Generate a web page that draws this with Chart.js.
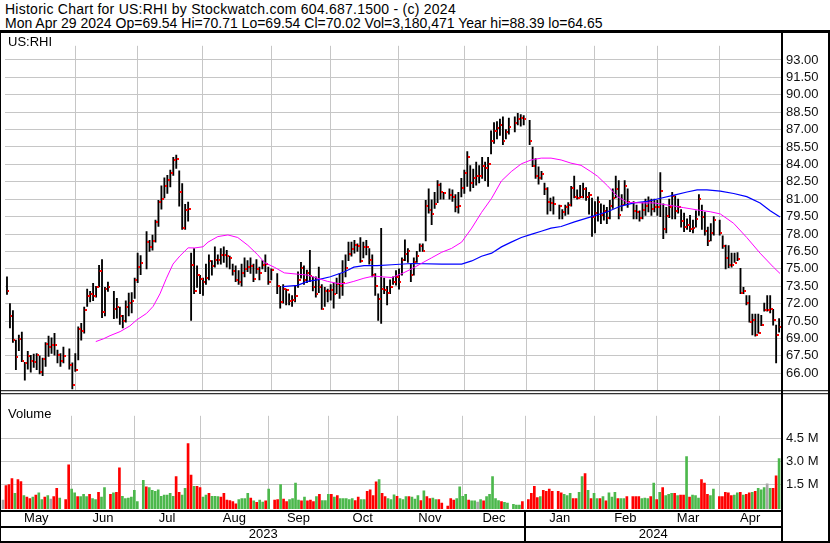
<!DOCTYPE html>
<html>
<head>
<meta charset="utf-8">
<title>Historic Chart for US:RHI</title>
<script src="https://cdn.jsdelivr.net/npm/chart.js@4.4.1/dist/chart.umd.min.js"></script>
<style>
  html, body { margin:0; padding:0; background:#fff; }
  #wrap { position:relative; width:830px; height:543px; overflow:hidden; background:#fff; font-family:"Liberation Sans", Arial, sans-serif; color:#000; }
  .hl { position:absolute; left:5px; font-size:14px; line-height:14.2px; white-space:pre; }
  #h1 { top:2px; letter-spacing:0.25px; }
  #h2 { top:16.2px; }
  #topRule { position:absolute; left:0; top:30px; width:830px; height:3px; background:#000; }
  canvas { position:absolute; left:0; }
  #cA { top:33px; }
  #cB { top:403px; }
  .tag { position:absolute; font-size:13px; line-height:15px; white-space:pre; z-index:2; }
</style>
</head>
<body>
<div id="wrap">
  <div class="hl" id="h1">Historic Chart for US:RHI by Stockwatch.com 604.687.1500 - (c) 2024</div>
  <div class="hl" id="h2">Mon Apr 29 2024 Op=69.54 Hi=70.71 Lo=69.54 Cl=70.02 Vol=3,180,471 Year hi=88.39 lo=64.65</div>
  <div id="topRule"></div>
  <canvas id="cA" width="830" height="370"></canvas>
  <canvas id="cB" width="830" height="140"></canvas>
  <div class="tag" style="left:8px;top:34px;">US:RHI</div>
  <div class="tag" style="left:8px;top:406px;">Volume</div>
</div>
<script>
// ---------- data (one slot per weekday, May 1 2023 .. Apr 29 2024; null = market holiday) ----------
const monthNames = ['May','Jun','Jul','Aug','Sep','Oct','Nov','Dec','Jan','Feb','Mar','Apr'];
const monthStart = [23,44,66,89,109,132,154,175,198,219,240];
const yearNames = ['2023','2024'];
const yearStart = [175];
const priceTicks = [66,67.5,69,70.5,72,73.5,75,76.5,78,79.5,81,82.5,84,85.5,87,88.5,90,91.5,93];
const volTicks = [1.5,3.0,4.5];

const highs = [
74.3,72.0,71.4,68.85,69.3,69.55,66.95,67.9,67.55,67.65,
67.7,67.5,67.3,68.65,69.2,69.05,69.45,68.0,67.7,68.25,
null,68.1,66.9,67.7,70.0,70.3,71.7,73.25,73.05,73.75,
73.5,75.3,75.8,73.4,73.85,null,73.05,72.45,71.7,71.0,
72.25,72.9,72.95,74.2,76.35,76.15,null,78.2,77.45,77.9,
79.2,80.9,82.15,82.85,83.05,83.5,84.6,84.8,83.45,82.35,
80.55,80.75,76.35,76.75,75.25,74.45,74.2,75.4,76.2,75.7,
76.9,76.2,76.75,76.9,76.6,76.1,75.4,75.25,74.85,75.4,
75.95,75.7,75.95,75.4,75.8,75.15,75.7,76.2,75.15,75.0,
null,74.6,73.5,73.65,73.25,72.85,72.7,73.5,74.75,75.55,
75.25,74.9,76.6,74.3,74.3,75.15,73.65,73.4,73.25,73.65,
73.8,74.2,74.6,75.7,76.2,77.3,77.3,77.45,77.15,77.7,
77.3,77.45,76.75,76.2,74.6,72.85,78.5,74.2,73.5,74.05,
74.3,74.85,75.0,75.95,77.5,76.75,75.4,75.95,76.5,77.15,
77.15,80.9,81.9,80.95,81.6,82.6,82.4,81.6,null,81.9,
81.8,81.4,81.6,82.8,83.5,85.1,83.9,83.6,84.2,83.9,
84.6,84.2,84.6,86.9,87.6,87.7,87.9,88.1,87.0,88.0,
null,88.1,88.39,88.3,88.2,null,87.8,85.5,84.5,83.8,
83.4,82.4,82.0,81.1,81.2,null,80.5,80.1,80.5,80.7,
82.1,83.0,81.8,82.2,82.4,82.0,81.6,81.1,80.8,81.2,
80.6,80.5,80.3,80.9,81.9,83.0,82.6,81.4,82.6,81.9,
null,80.8,80.5,80.0,80.7,81.0,81.2,81.0,81.0,80.9,
83.3,80.6,80.3,81.0,81.6,81.3,81.0,80.1,79.8,79.3,
79.6,79.2,80.0,81.4,80.5,79.9,78.6,78.9,79.5,null,
79.2,77.85,77.05,77.0,76.35,76.35,76.4,75.05,73.4,72.7,
72.7,71.1,71.1,71.1,71.0,72.05,72.7,72.7,71.5,70.15,70.71
];
const lows = [
72.8,69.9,68.65,66.3,67.95,67.0,65.4,66.35,66.1,66.5,
66.3,65.95,65.8,66.6,67.45,67.7,67.55,66.9,66.6,66.9,
null,66.35,64.65,66.15,67.15,68.85,69.45,71.75,72.15,72.25,
72.55,73.45,70.8,70.95,73.05,null,70.7,70.75,70.2,69.9,
70.4,70.95,71.2,72.45,73.8,74.5,null,75.0,76.5,76.6,
77.3,78.65,80.15,81.1,81.5,82.05,83.05,83.65,80.4,78.4,
78.4,79.1,70.55,72.85,73.4,72.85,72.7,73.65,74.05,74.45,
75.15,75.4,75.4,75.55,75.15,75.0,74.45,73.9,73.65,73.5,
74.3,74.75,74.6,73.9,74.6,74.05,75.0,74.75,73.65,74.05,
null,72.85,71.6,72.05,71.9,71.9,71.75,72.15,73.4,74.2,
73.65,73.8,73.9,73.1,72.55,72.95,71.5,71.75,72.15,72.3,
71.6,72.85,72.45,72.7,74.3,75.7,76.1,76.35,76.5,75.55,
75.95,76.2,75.4,74.3,72.7,70.55,70.3,72.85,71.9,72.85,
73.65,73.6,73.25,74.45,75.7,75.55,73.9,74.45,75.55,76.5,
76.5,77.4,79.8,78.8,80.2,80.7,81.0,81.0,null,81.0,
80.8,79.9,79.8,81.2,81.5,82.1,81.7,82.0,82.2,82.4,
82.8,82.6,82.1,84.9,85.8,86.2,86.5,85.7,86.2,86.6,
null,86.8,87.4,87.3,87.4,null,85.7,83.8,82.8,82.3,
82.7,81.4,79.7,80.0,79.7,null,79.3,79.3,79.6,79.7,
80.4,81.1,81.0,81.1,81.1,80.9,79.7,77.8,78.1,79.1,
78.9,79.2,78.9,79.3,80.2,81.1,79.3,80.0,80.5,80.3,
null,79.3,79.3,79.1,79.3,79.6,79.9,79.6,79.9,79.6,
79.5,77.6,78.1,79.4,79.3,79.3,79.8,78.6,78.2,78.4,
78.2,78.1,78.6,79.6,78.4,77.9,77.0,77.4,77.9,null,
77.9,76.75,75.0,75.1,75.15,75.55,75.7,72.85,72.85,71.9,
70.4,69.3,69.2,69.45,70.1,71.35,71.35,71.2,70.15,66.9,69.54
];
const closes = [
73.05,70.9,68.85,67.4,68.95,67.05,66.85,67.5,67.05,67.0,
67.55,66.1,67.2,68.5,68.3,68.45,68.45,67.55,67.05,67.5,
null,66.7,64.95,66.25,69.8,69.6,71.45,72.65,72.85,72.65,
73.4,74.85,71.3,73.25,73.4,null,71.55,71.7,70.9,70.5,
71.75,72.05,72.25,74.05,75.2,75.5,null,77.3,76.85,77.4,
79.0,80.75,81.0,82.15,82.65,83.25,84.35,84.5,81.6,78.55,
80.05,80.15,75.3,73.05,74.5,74.1,73.85,74.25,75.7,75.25,
75.75,75.8,76.2,76.15,76.1,75.95,74.8,74.05,73.85,74.6,
75.0,75.2,75.25,74.15,74.95,74.6,75.35,75.45,73.85,74.9,
null,73.55,72.15,73.25,73.15,72.25,72.3,72.7,74.05,75.05,
74.05,74.6,74.4,73.45,72.8,73.4,71.55,73.05,73.1,73.2,
72.85,73.65,73.55,73.75,75.1,76.3,76.75,77.05,77.0,75.7,
76.85,76.9,75.75,74.45,73.55,72.4,73.3,73.15,72.9,73.45,
73.9,74.3,73.9,75.75,76.3,76.55,74.5,75.6,76.1,76.95,
76.55,80.45,80.05,79.7,80.6,82.2,81.6,81.5,null,81.4,
81.2,80.3,80.4,81.95,83.3,84.6,82.4,82.8,83.0,83.0,
83.9,83.7,84.0,86.0,86.9,87.1,87.4,86.0,86.8,87.2,
null,87.6,87.9,88.0,87.9,null,86.0,83.9,83.0,82.8,
83.2,81.9,80.8,80.7,80.6,null,80.45,79.9,80.3,80.5,
82.0,81.2,81.1,81.15,81.9,81.2,81.35,79.5,79.85,80.75,
79.65,80.0,79.4,80.45,81.1,81.9,79.65,80.5,82.15,80.8,
null,79.95,79.9,79.4,80.05,80.45,80.85,80.15,80.35,80.3,
81.7,78.4,79.55,80.35,81.3,79.95,80.3,79.15,78.6,78.75,
78.4,78.5,79.3,81.05,79.5,78.25,77.4,78.1,79.25,null,
78.1,76.95,75.9,75.35,75.3,75.5,75.85,72.9,73.1,72.05,
70.45,70.6,69.3,69.5,70.15,71.45,71.45,71.5,70.55,69.3,70.02
];
// volume in millions of shares
const volumes = [
0.5,1.44,1.5,1.88,0.93,1.83,1.69,0.78,0.68,0.59,
0.68,0.82,0.97,0.53,0.68,0.78,0.55,0.72,1.25,0.63,
null,0.53,2.78,1.2,0.97,0.72,0.72,0.87,0.72,0.87,
0.59,0.53,1.0,0.68,1.31,null,0.87,0.97,1.0,2.59,
0.74,0.59,0.63,0.68,1.12,0.4,null,1.77,1.35,1.31,
1.12,1.06,1.16,0.74,0.82,0.82,0.93,0.74,2.02,1.0,
0.82,1.25,4.16,2.11,1.39,1.39,1.31,0.68,0.82,0.93,
0.74,0.74,0.72,0.68,0.93,0.49,0.46,0.4,0.25,0.53,
0.59,0.59,0.93,0.63,0.44,0.34,0.49,0.36,0.44,1.2,
null,0.49,0.53,1.5,0.55,0.4,0.53,0.59,1.6,0.49,
0.44,0.68,0.44,0.49,0.4,0.72,0.87,0.46,0.46,0.87,
0.87,0.68,0.78,0.59,0.59,0.59,0.53,0.59,0.46,0.68,
0.53,0.53,1.06,1.16,0.78,1.67,1.83,0.93,0.72,0.59,
0.53,0.84,0.74,0.59,0.53,0.72,0.72,0.68,0.55,0.78,
0.46,1.1,0.72,0.59,0.63,0.53,0.53,0.3,null,0.11,
0.59,0.49,0.59,1.35,0.74,0.87,0.49,0.44,0.44,0.36,
0.53,0.44,0.72,0.87,2.02,0.59,0.46,0.4,0.34,0.3,
null,0.21,0.17,0.17,0.4,null,0.53,0.93,1.39,0.65,
0.72,1.12,1.06,1.2,1.06,null,1.06,0.97,0.87,0.78,
0.93,0.59,0.59,1.0,2.02,2.21,1.12,0.59,0.93,0.59,
0.59,0.72,0.44,0.97,0.68,1.0,0.59,0.59,0.59,0.72,
null,0.72,0.72,0.72,0.59,0.63,0.59,0.72,1.6,0.53,
1.0,1.31,0.78,0.87,0.93,0.93,0.78,0.82,0.82,3.31,
0.68,0.82,0.78,0.63,1.83,1.6,0.87,0.78,1.2,null,
0.72,0.72,1.0,0.97,0.78,0.82,0.97,1.0,0.82,0.87,
0.97,1.0,1.06,1.25,1.16,1.31,1.54,1.25,1.25,2.07,3.18
];
// moving averages (slot, value)
const maShortSlots = [29.9,32.5,34.7,38.1,41.4,43.7,47.0,49.2,51.5,53.7,55.9,58.2,61.0,63.2,66.0,67.7,71.0,74.4,77.7,81.1,84.4,86.7,90.0,93.4,97.8,101.2,104.5,107.9,111.2,113.9,116.8,120.2,123.5,126.9,129.6,133.0,136.3,139.7,143.0,146.4,149.7,153.1,156.5,159.8,163.2,166.5,169.8,173.2,176.5,179.9,183.2,186.6,189.9,193.3,196.6,198.9,202.2,205.6,208.9,213.4,217.9,221.2,224.6,227.9,232.4,236.8,240.2,244.7,249.1,253.6,258.1,260.3];
const maShortVals = [68.73,68.97,69.24,69.59,70.08,70.6,71.16,71.76,72.84,74.19,75.41,76.1,76.81,76.8,76.9,77.3,77.78,77.92,77.7,77.03,76.22,75.54,75.14,74.65,74.54,74.46,74.19,73.92,73.75,73.72,73.92,74.19,74.38,74.3,74.25,74.59,75.0,75.49,75.95,76.43,76.76,77.3,78.51,79.86,81.08,82.57,83.38,84.05,84.38,84.54,84.54,84.38,84.11,83.92,83.38,82.97,82.16,81.22,80.73,80.68,80.68,80.54,80.41,80.27,80.08,79.92,79.73,78.92,77.7,76.35,75.14,74.6];
const maLongSlots = [92.8,97.8,101.2,104.5,108.9,113.5,116.8,120.2,124.6,129.6,136.3,146.4,153.1,156.5,159.8,163.2,166.5,169.8,173.2,176.5,179.9,183.2,186.6,191.1,196.6,202.2,206.7,211.2,215.6,220.1,224.6,229.0,232.4,235.7,240.2,244.7,249.1,253.6,257.0,260.3];
const maLongVals = [73.46,73.57,73.92,74.05,74.32,74.73,75.14,75.27,75.27,75.35,75.46,75.41,75.41,75.68,76.08,76.35,76.89,77.3,77.7,77.97,78.24,78.51,78.65,79.05,79.48,79.92,80.41,80.68,80.81,81.08,81.35,81.62,81.81,81.81,81.7,81.49,81.22,80.68,80.0,79.46];

// ---------- build ----------
const FONT = '"Liberation Sans", Arial, sans-serif';
Chart.defaults.font.family = FONT;
const GRID = '#c6c6c6';
const RED = '#ff0000', GREEN = '#4cb84c', GRAY = '#a6a6a6';
const X_MIN = -0.67, X_MAX = 260.64;
const P_MIN = 64.54, P_MAX = 94.22;
const V_MIN = -0.086, V_MAX = 5.96;

const bounds = [X_MIN, ...monthStart, X_MAX];
const monthCenters = monthNames.map((_, i) => (bounds[i] + bounds[i + 1]) / 2);
const yb = [X_MIN, ...yearStart, X_MAX];
const yearCenters = yearNames.map((_, i) => (yb[i] + yb[i + 1]) / 2);

const rangeData = [], closeData = [], volData = [], volColors = [];
let prevClose = null;
for (let i = 0; i < closes.length; i++) {
  if (closes[i] == null) continue;
  rangeData.push({x: i, y: [lows[i], highs[i]]});
  closeData.push({x: i, y: closes[i]});
  volData.push({x: i, y: volumes[i]});
  volColors.push(prevClose == null || closes[i] === prevClose ? GRAY : (closes[i] > prevClose ? GREEN : RED));
  prevClose = closes[i];
}
const maShort = maShortSlots.map((s, i) => ({x: s, y: maShortVals[i]}));
const maLong = maLongSlots.map((s, i) => ({x: s, y: maLongVals[i]}));

// close tick: small red square just right of the bar
const mark = document.createElement('canvas');
mark.width = 5; mark.height = 2;
const mg = mark.getContext('2d');
mg.fillStyle = RED; mg.fillRect(3, 0, 2, 2);

const xGridAxis = {
  type: 'linear', min: X_MIN, max: X_MAX, offset: false, weight: 0,
  afterBuildTicks: s => { s.ticks = monthStart.map(v => ({value: v})); },
  ticks: {display: false},
  grid: {color: GRID, drawTicks: false, offset: false},
  border: {display: false},
  afterFit: s => { s.height = 0; }
};

const frameA = {
  id: 'frameA',
  afterDraw(chart) {
    const c = chart.ctx, a = chart.chartArea, w = chart.width, h = chart.height;
    c.save(); c.fillStyle = '#000';
    c.fillRect(0, 0, 1, h);
    c.fillRect(a.right, 0, 2, h);
    c.fillRect(w - 2, 0, 2, h);
    c.fillRect(0, a.bottom, w, 1);
    c.fillRect(0, a.bottom + 3, w, 1);
    c.restore();
  }
};
const frameB = {
  id: 'frameB',
  afterDraw(chart) {
    const c = chart.ctx, a = chart.chartArea, w = chart.width, h = chart.height;
    const xy = chart.scales.xy;
    c.save(); c.fillStyle = '#000';
    c.fillRect(0, 0, 1, h);
    c.fillRect(a.right, 0, 2, h);
    c.fillRect(w - 2, 0, 2, h);
    c.fillRect(0, a.bottom + 1, a.right + 2, 2);
    c.fillRect(0, xy.top, a.right + 2, 2);
    c.fillRect(0, h - 2, w, 2);
    const jx = Math.round(chart.scales.x.getPixelForValue(yearStart[0]));
    c.fillRect(jx - 1, a.bottom + 1, 2, h - a.bottom - 1);
    c.restore();
  }
};

new Chart(document.getElementById('cA'), {
  type: 'bar',
  data: {
    datasets: [
      {type: 'line', data: maShort, borderColor: '#ff00ff', borderWidth: 1, pointRadius: 0, tension: 0, order: 0, xAxisID: 'x', yAxisID: 'y'},
      {type: 'line', data: maLong, borderColor: '#0000ff', borderWidth: 1.2, pointRadius: 0, tension: 0, order: 0, xAxisID: 'x', yAxisID: 'y'},
      {type: 'scatter', data: closeData, pointStyle: mark, pointRadius: 2, order: 1, xAxisID: 'x', yAxisID: 'y'},
      {type: 'bar', data: rangeData, backgroundColor: '#000', barThickness: 1.2, grouped: false, order: 2, xAxisID: 'x', yAxisID: 'y'}
    ]
  },
  options: {
    responsive: false, animation: false, events: [], devicePixelRatio: 1,
    layout: {padding: {left: 1, right: 0, top: 0, bottom: 4}},
    plugins: {legend: {display: false}, tooltip: {enabled: false}},
    scales: {
      x: xGridAxis,
      y: {
        position: 'right', min: P_MIN, max: P_MAX,
        afterBuildTicks: s => { s.ticks = priceTicks.map(v => ({value: v})); },
        ticks: {callback: v => v.toFixed(2), padding: 5, font: {size: 13}, color: '#111'},
        grid: {color: GRID, drawTicks: false},
        border: {display: false},
        afterFit: s => { s.width = 49; }
      }
    }
  },
  plugins: [frameA]
});

new Chart(document.getElementById('cB'), {
  type: 'bar',
  data: {
    datasets: [
      {type: 'bar', data: volData, backgroundColor: volColors, barThickness: 2, base: V_MIN, grouped: false, xAxisID: 'x', yAxisID: 'y'}
    ]
  },
  options: {
    responsive: false, animation: false, events: [], devicePixelRatio: 1,
    layout: {padding: {left: 1, right: 0, top: 0, bottom: 0}},
    plugins: {legend: {display: false}, tooltip: {enabled: false}},
    scales: {
      x: Object.assign({}, xGridAxis),
      xm: {
        type: 'linear', position: 'bottom', min: X_MIN, max: X_MAX, offset: false, weight: 1,
        afterBuildTicks: s => { s.ticks = monthCenters.map(v => ({value: v})); },
        ticks: {autoSkip: false, maxRotation: 0, minRotation: 0, padding: 2, font: {size: 13}, color: '#000', callback: (v, i) => monthNames[i]},
        grid: {display: false, drawTicks: false},
        border: {display: false},
        afterFit: s => { s.height = 17; }
      },
      xy: {
        type: 'linear', position: 'bottom', min: X_MIN, max: X_MAX, offset: false, weight: 2,
        afterBuildTicks: s => { s.ticks = yearCenters.map(v => ({value: v})); },
        ticks: {autoSkip: false, maxRotation: 0, minRotation: 0, padding: 1, font: {size: 13}, color: '#000', callback: (v, i) => yearNames[i]},
        grid: {display: false, drawTicks: false},
        border: {display: false},
        afterFit: s => { s.height = 17; }
      },
      y: {
        position: 'right', min: V_MIN, max: V_MAX,
        afterBuildTicks: s => { s.ticks = volTicks.map(v => ({value: v})); },
        ticks: {callback: v => v.toFixed(1) + ' M', padding: 5, font: {size: 13}, color: '#111'},
        grid: {color: GRID, drawTicks: false},
        border: {display: false},
        afterFit: s => { s.width = 49; }
      }
    }
  },
  plugins: [frameB]
});
</script>
</body>
</html>
